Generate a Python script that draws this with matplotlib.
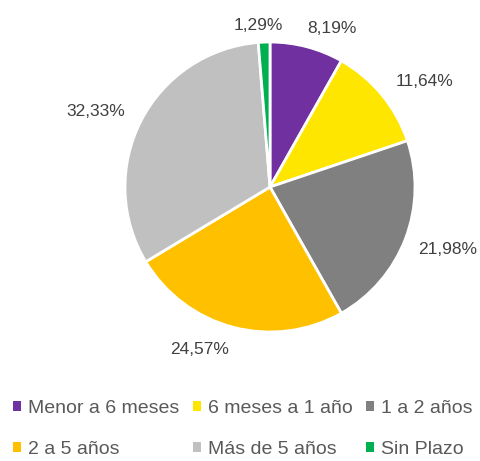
import matplotlib.pyplot as plt
from matplotlib.patches import Patch

categorias = ['Menor a 6 meses', '6 meses a 1 año', '1 a 2 años',
              '2 a 5 años', 'Más de 5 años', 'Sin Plazo']
valores = [8.19, 11.64, 21.98, 24.57, 32.33, 1.29]
colores = ['#7030A0', '#FFE600', '#808080', '#FFC000', '#C0C0C0', '#00B050']
etiquetas = ['8,19%', '11,64%', '21,98%', '24,57%', '32,33%', '1,29%']
# posiciones de las etiquetas (px, con y hacia arriba)
pos_etiquetas = [(332, 433), (425, 380), (448, 211), (200, 111), (96, 350), (258, 436)]

plt.rcParams['font.family'] = ['Liberation Sans', 'DejaVu Sans']

fig = plt.figure(figsize=(4.81, 4.61), dpi=100)
ax = fig.add_axes([0, 0, 1, 1])

wedges, textos = ax.pie(valores, colors=colores, labels=etiquetas, startangle=90,
                        counterclock=False, center=(270, 274), radius=145,
                        wedgeprops=dict(edgecolor='white', linewidth=2),
                        textprops=dict(fontsize=12.5, color='#404040'))
for t, p in zip(textos, pos_etiquetas):
    t.set_position(p)
    t.set_ha('center')
    t.set_va('center')

ax.set_xlim(0, 481)
ax.set_ylim(0, 461)
ax.set_aspect('equal')
ax.axis('off')

# la leyenda se llena por columnas: reordenar para que quede por filas
orden = [0, 3, 1, 4, 2, 5]
handles = [Patch(facecolor=colores[i], edgecolor='none') for i in orden]
nombres = [categorias[i] for i in orden]
fig.legend(handles, nombres, ncol=3, loc='center', bbox_to_anchor=(0.505, 0.069),
           frameon=False, fontsize=14, labelcolor='#595959',
           handlelength=0.42, handleheight=0.42, handletextpad=0.35,
           columnspacing=0.7, labelspacing=1.25)

plt.savefig('out.png', dpi=100)
